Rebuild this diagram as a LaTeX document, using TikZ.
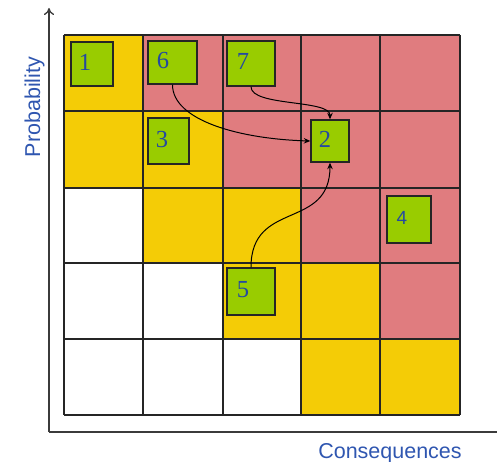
\documentclass[tikz,border=0pt]{standalone}
\usepackage{fontspec}
\setmainfont{Liberation Serif}
\setsansfont{Liberation Sans}
\usetikzlibrary{arrows.meta}

\definecolor{riskyellow}{HTML}{F4CC06}
\definecolor{riskred}{HTML}{E07C7F}
\definecolor{boxgreen}{HTML}{99CC00}
\definecolor{labelblue}{HTML}{2F56B0}
\definecolor{numblue}{HTML}{244AA0}
\definecolor{gridline}{HTML}{252525}

\tikzset{
  cellline/.style={draw=gridline, line width=1.3pt},
  riskbox/.style={rectangle, draw=gridline, fill=boxgreen, line width=1.4pt, inner sep=0pt},
  num/.style={text=numblue, font=\fontsize{24.5}{24.5}\selectfont, inner sep=0pt},
  link/.style={draw=black, line width=1pt, -{Stealth[length=6.5pt,width=5.5pt]}},
  axisline/.style={draw=gridline!90, line width=1.3pt},
  axislabel/.style={text=labelblue, font=\sffamily\fontsize{21.5}{22}\selectfont, inner sep=0pt}
}

\begin{document}
\begin{tikzpicture}[x=1pt, y=-1pt]
\useasboundingbox (0,0) rectangle (497,462);

% coloured cells of the 5x5 risk matrix
\foreach \xa/\xb/\ya/\yb/\c in {
  64/143/35/111/riskyellow, 143/223/35/111/riskred, 223/301/35/111/riskred,
  301/380/35/111/riskred, 380/460/35/111/riskred,
  64/143/111/188/riskyellow, 143/223/111/188/riskyellow, 223/301/111/188/riskred,
  301/380/111/188/riskred, 380/460/111/188/riskred,
  143/223/188/263/riskyellow, 223/301/188/263/riskyellow,
  301/380/188/263/riskred, 380/460/188/263/riskred,
  223/301/263/339/riskyellow, 301/380/263/339/riskyellow, 380/460/263/339/riskred,
  301/380/339/415/riskyellow, 380/460/339/415/riskyellow}
  \fill[\c] (\xa,\ya) rectangle (\xb,\yb);

% grid lines
\foreach \x in {64,143,223,301,380,460}
  \draw[cellline] (\x,35) -- (\x,415);
\foreach \y in {35,111,188,263,339,415}
  \draw[cellline] (64,\y) -- (460,\y);

% axes
\coordinate (origin) at (49,432);
\coordinate (ytop) at (49,8);
\coordinate (xend) at (497,432);
\draw[axisline, -{To[length=7pt,width=10pt]}] (origin) -- (ytop);
\draw[axisline] (origin) -- (xend);

\node[axislabel, rotate=90, anchor=base] (ylab) at (40,107) {Probability};
\node[axislabel, anchor=base] (xlab) at (390,458) {Consequences};

% risk items
\node[riskbox, minimum width=42pt, minimum height=44pt,
  label={[num, xshift=-7pt, yshift=1.5pt]center:1}] (b1) at (92,64) {};
\node[riskbox, minimum width=49pt, minimum height=43pt,
  label={[num, xshift=-9.5pt, yshift=1.5pt]center:6}] (b6) at (172.5,62.5) {};
\node[riskbox, minimum width=48pt, minimum height=45pt,
  label={[num, xshift=-8pt, yshift=2pt]center:7}] (b7) at (251,63.5) {};
\node[riskbox, minimum width=41pt, minimum height=46pt,
  label={[num, xshift=-6.5pt, yshift=1pt]center:3}] (b3) at (168.5,141) {};
\node[riskbox, minimum width=38pt, minimum height=42pt,
  label={[num, xshift=-5pt, yshift=1.5pt]center:2}] (b2) at (330,141) {};
\node[riskbox, minimum width=44pt, minimum height=47pt,
  label={[num, font=\sffamily\fontsize{19}{19}\selectfont, xshift=-7pt, yshift=1.5pt]center:4}] (b4) at (409,219.5) {};
\node[riskbox, minimum width=48pt, minimum height=47pt,
  label={[num, xshift=-8pt, yshift=1.5pt]center:5}] (b5) at (251,291.5) {};

% transitions towards item 2
\draw[link] (b6.south) .. controls +(0,36) and +(-70,-2) .. (b2.west);
\draw[link] (b7.south) .. controls +(0,20) and +(0,-20) .. (b2.north);
\draw[link] (b5.north) .. controls +(0,-68) and +(0,68) .. (b2.south);
\end{tikzpicture}
\end{document}
